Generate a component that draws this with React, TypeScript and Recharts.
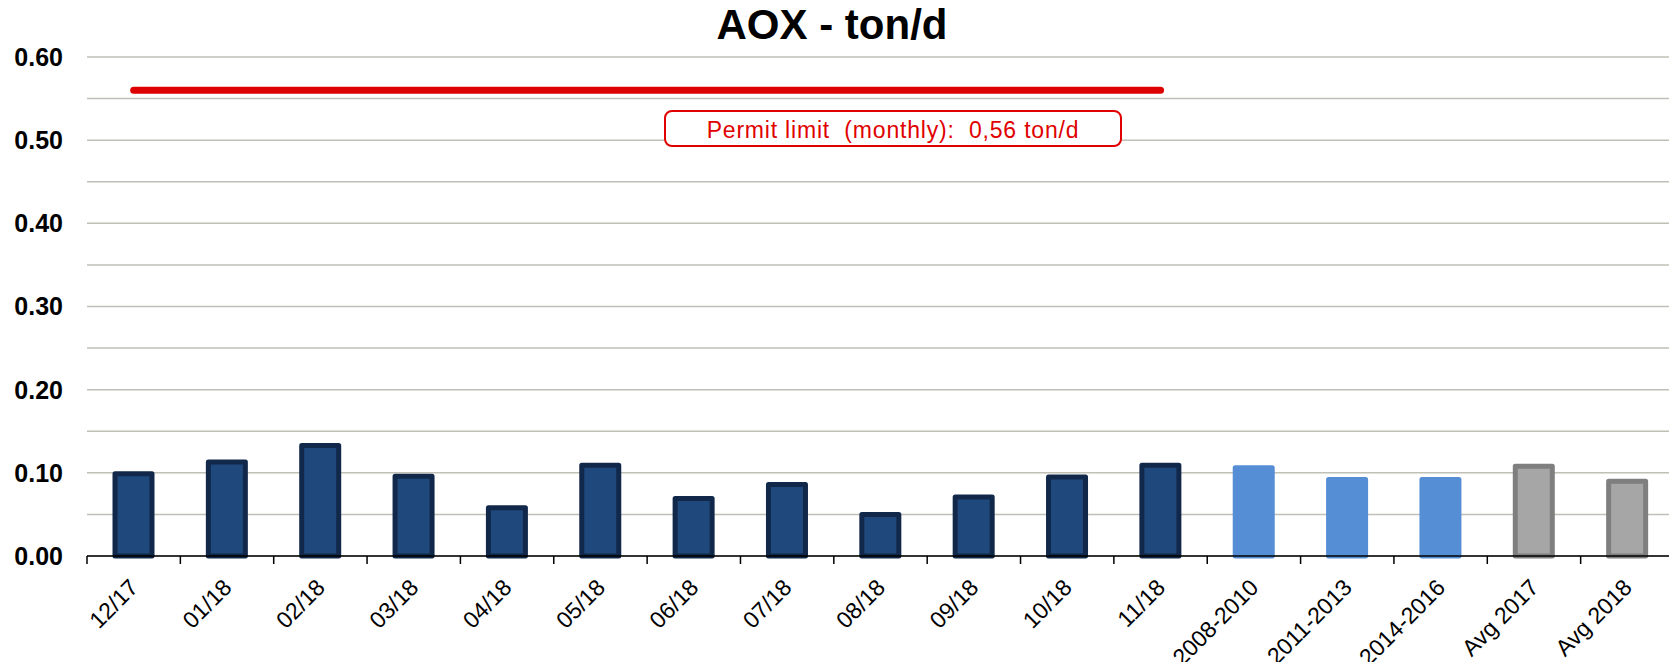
import { Bar, CartesianGrid, Cell, ComposedChart, Line, XAxis, YAxis } from 'recharts'

const categories = [
  '12/17', '01/18', '02/18', '03/18', '04/18', '05/18', '06/18', '07/18', '08/18',
  '09/18', '10/18', '11/18', '2008-2010', '2011-2013', '2014-2016', 'Avg 2017', 'Avg 2018',
]
const aoxValues = [
  0.099, 0.113, 0.133, 0.096, 0.058, 0.109, 0.069, 0.086, 0.05,
  0.071, 0.095, 0.109, 0.106, 0.092, 0.092, 0.108, 0.09,
]
const permitLimit = [
  0.56, 0.56, 0.56, 0.56, 0.56, 0.56, 0.56, 0.56, 0.56,
  0.56, 0.56, 0.56, null, null, null, null, null,
]
const barGroups = [
  'month', 'month', 'month', 'month', 'month', 'month', 'month', 'month', 'month',
  'month', 'month', 'month', 'period', 'period', 'period', 'avg', 'avg',
]
const yTicks = [0, 0.05, 0.1, 0.15, 0.2, 0.25, 0.3, 0.35, 0.4, 0.45, 0.5, 0.55, 0.6]
const yTickLabels = ['0.00', '', '0.10', '', '0.20', '', '0.30', '', '0.40', '', '0.50', '', '0.60']

const groupStyle: Record<string, { fill: string; stroke: string }> = {
  month: { fill: '#1f497d', stroke: '#12284a' },
  period: { fill: '#558ed5', stroke: '#558ed5' },
  avg: { fill: '#a6a6a6', stroke: '#7f7f7f' },
}

const chartData = categories.map((name, i) => ({
  name,
  aox: aoxValues[i],
  limit: permitLimit[i],
  group: barGroups[i],
}))

const WIDTH = 1677
const HEIGHT = 670
const Y_AXIS_WIDTH = 87
const RIGHT_MARGIN = 3
const BAND = (WIDTH - Y_AXIS_WIDTH - RIGHT_MARGIN) / categories.length
const FONT = '"Liberation Sans", Arial, sans-serif'

function XTick({ x, y, payload, index }: { x: number; y: number; payload: { value: string }; index: number }) {
  const half = BAND / 2
  const tx = x + 6
  const ty = y + 33
  return (
    <g>
      <line x1={x - half} y1={y} x2={x - half} y2={y + 8} stroke="#000" strokeWidth={1.5} />
      {index === categories.length - 1 && (
        <line x1={x + half} y1={y} x2={x + half} y2={y + 8} stroke="#000" strokeWidth={1.5} />
      )}
      <text
        x={tx}
        y={ty}
        textAnchor="end"
        transform={`rotate(-45, ${tx}, ${ty})`}
        fontSize={23}
        fontFamily={FONT}
        fill="#000"
      >
        {payload.value}
      </text>
    </g>
  )
}

export default function App() {
  return (
    <div style={{ position: 'relative', width: WIDTH, height: HEIGHT, margin: -8, background: '#fff', fontFamily: FONT }}>
      <ComposedChart
        width={WIDTH}
        height={HEIGHT}
        data={chartData}
        margin={{ top: 57, right: RIGHT_MARGIN, bottom: 0, left: 0 }}
      >
        <CartesianGrid vertical={false} stroke="#c0c0b6" strokeWidth={1.5} />
        <XAxis
          dataKey="name"
          interval={0}
          height={114}
          tickLine={false}
          tickSize={0}
          tickMargin={0}
          axisLine={{ stroke: '#000', strokeWidth: 1.5 }}
          tick={(props: any) => <XTick {...props} />}
        />
        <YAxis
          width={Y_AXIS_WIDTH}
          domain={[0, 0.6]}
          ticks={yTicks}
          interval={0}
          axisLine={false}
          tickLine={false}
          tickSize={0}
          tickMargin={24}
          tickFormatter={(v: number) => yTickLabels[yTicks.indexOf(v)] ?? ''}
          tick={{ fontSize: 25, fontWeight: 'bold', fill: '#000', fontFamily: FONT }}
        />
        <Bar dataKey="aox" barSize={37} strokeWidth={5} isAnimationActive={false}>
          {chartData.map((d) => (
            <Cell
              key={d.name}
              fill={groupStyle[d.group].fill}
              stroke={groupStyle[d.group].stroke}
              strokeLinejoin="round"
            />
          ))}
        </Bar>
        <Line
          dataKey="limit"
          stroke="#dd0000"
          strokeWidth={7}
          strokeLinecap="round"
          dot={false}
          activeDot={false}
          isAnimationActive={false}
        />
      </ComposedChart>

      <div
        style={{
          position: 'absolute',
          left: 0,
          top: 4,
          width: 1664,
          textAlign: 'center',
          fontSize: 42,
          lineHeight: '42px',
          fontWeight: 'bold',
          color: '#000',
        }}
      >
        AOX - ton/d
      </div>

      <div
        style={{
          position: 'absolute',
          left: 664,
          top: 110,
          width: 458,
          height: 37,
          boxSizing: 'border-box',
          border: '2px solid #e00000',
          borderRadius: 8,
          background: '#fff',
          color: '#e00000',
          fontSize: 23,
          letterSpacing: 0.8,
          whiteSpace: 'pre',
          display: 'flex',
          alignItems: 'center',
          justifyContent: 'center',
          paddingTop: 4,
        }}
      >
        {'Permit limit  (monthly):  0,56 ton/d'}
      </div>
    </div>
  )
}
